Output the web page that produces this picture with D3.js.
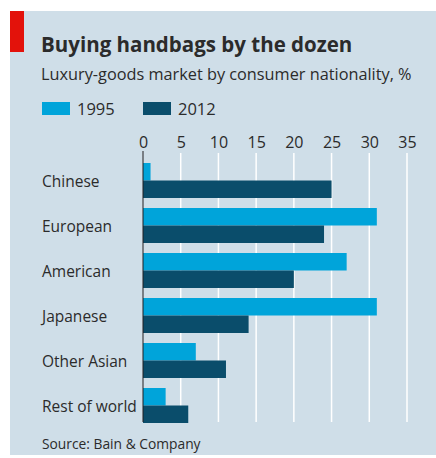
<!DOCTYPE html>
<html>
<head>
<meta charset="utf-8">
<script src="https://cdn.jsdelivr.net/npm/d3@7"></script>
<style>
  html, body { margin: 0; padding: 0; background: #ffffff; }
  svg { display: block; }
  text { font-family: "Open Sans", "Noto Sans", sans-serif; fill: #2b2b2b; }
</style>
</head>
<body>
<svg id="chart" width="436" height="458"></svg>
<script>
// Luxury-goods market share by consumer nationality, %
const categories = ["Chinese", "European", "American", "Japanese", "Other Asian", "Rest of world"];
const series = ["1995", "2012"];
const values1995 = [1, 31, 27, 31, 7, 3];
const values2012 = [25, 24, 20, 14, 11, 6];
const tickValues = [0, 5, 10, 15, 20, 25, 30, 35];

const colors = { "1995": "#00a4da", "2012": "#0a4d6b" };

const svg = d3.select("#chart");

// Panel background and red tag
svg.append("rect").attr("x", 10).attr("y", 11).attr("width", 426).attr("height", 444).attr("fill", "#cfdee8");
svg.append("rect").attr("x", 10).attr("y", 11).attr("width", 14).attr("height", 41).attr("fill", "#e3120b");

// Titles
svg.append("text").attr("x", 41).attr("y", 52)
  .attr("font-size", 20.5).attr("font-weight", 700).attr("fill", "#231f20")
  .text("Buying handbags by the dozen");
svg.append("text").attr("x", 41).attr("y", 80)
  .attr("font-size", 16.3)
  .text("Luxury-goods market by consumer nationality, %");

// Legend
const legend = svg.append("g");
[{ key: "1995", x: 42 }, { key: "2012", x: 143 }].forEach(d => {
  legend.append("rect").attr("x", d.x).attr("y", 102).attr("width", 28).attr("height", 13).attr("fill", colors[d.key]);
  legend.append("text").attr("x", d.x + 35).attr("y", 115).attr("font-size", 16.5).text(d.key);
});

// Scales
const x = d3.scaleLinear().domain([0, 35]).range([143, 407]);
const y = d3.scaleBand().domain(categories).range([163, 423]).paddingInner(10 / 45).paddingOuter(0);
const ySub = d3.scaleBand().domain(series).range([0, y.bandwidth()]);

// Gridlines
svg.append("g").selectAll("line").data(tickValues.filter(v => v > 0)).join("line")
  .attr("x1", d => x(d)).attr("x2", d => x(d))
  .attr("y1", 153).attr("y2", 422)
  .attr("stroke", "#ffffff").attr("stroke-width", 1.5);

// Top axis labels
const axis = svg.append("g").attr("transform", "translate(0,151)")
  .call(d3.axisTop(x).tickValues(tickValues).tickSize(0).tickPadding(3));
axis.select(".domain").remove();
axis.selectAll("text").attr("font-size", 16).attr("fill", "#2b2b2b")
  .attr("font-family", "\"Open Sans\", \"Noto Sans\", sans-serif");

// Bars
const rows = categories.map((c, i) => ({ cat: c, v: { "1995": values1995[i], "2012": values2012[i] } }));
const groups = svg.append("g").selectAll("g").data(rows).join("g")
  .attr("transform", d => `translate(0,${y(d.cat)})`);
groups.selectAll("rect").data(d => series.map(s => ({ s, v: d.v[s] }))).join("rect")
  .attr("x", x(0)).attr("y", d => ySub(d.s))
  .attr("width", d => x(d.v) - x(0)).attr("height", ySub.bandwidth())
  .attr("fill", d => colors[d.s]);

// Zero line
svg.append("line").attr("x1", x(0)).attr("x2", x(0)).attr("y1", 151).attr("y2", 422)
  .attr("stroke", "#231f20").attr("stroke-width", 1);

// Category labels
svg.append("g").selectAll("text").data(categories).join("text")
  .attr("x", 42).attr("y", d => y(d) + y.bandwidth() / 2 + 6.5)
  .attr("font-size", 15.5).text(d => d);

// Source
svg.append("text").attr("x", 42).attr("y", 449).attr("font-size", 13.8)
  .text("Source: Bain & Company");
</script>
</body>
</html>
